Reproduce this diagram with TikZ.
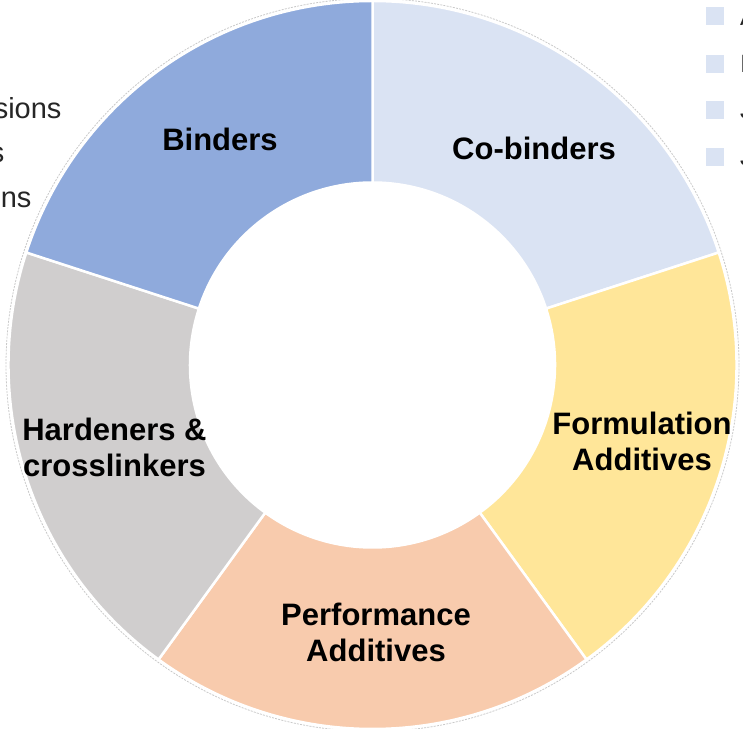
\documentclass[tikz,border=0pt]{standalone}
\usepackage{fontspec}
\usetikzlibrary{calc}
\setmainfont{Liberation Sans}
\definecolor{cbind}{HTML}{8FAADC}
\definecolor{ccobind}{HTML}{DAE3F3}
\definecolor{cform}{HTML}{FFE699}
\definecolor{cperf}{HTML}{F8CBAD}
\definecolor{chard}{HTML}{D0CECE}
\definecolor{crim}{HTML}{C9C9C9}
\definecolor{legtext}{HTML}{262626}
\begin{document}
\begin{tikzpicture}[x=1pt,y=1pt,
  slice/.style={draw=white,line width=2.5pt,line join=miter},
  seglabel/.style={inner sep=0pt,align=center,font=\fontsize{31}{36}\selectfont\bfseries,text=black},
  legtxt/.style={inner sep=0pt,font=\fontsize{29}{33}\selectfont,text=legtext},
  legtxtr/.style={inner sep=0pt,font=\fontsize{25}{29}\selectfont,text=legtext},
  legbox/.style={fill=ccobind,draw=none}]
\useasboundingbox (0,0) rectangle (743,728);
\clip (0,0) rectangle (743,728);
\coordinate (c) at (372.5,363);
\def\ro{364}
\def\ri{182.5}
% donut slices: start angle, end angle, colour
\foreach \a/\b/\col in {18/90/ccobind, -54/18/cform, -126/-54/cperf, 162/234/chard, 90/162/cbind}{
  \filldraw[slice,fill=\col] ($(c)+(\a:\ro)$) arc[start angle=\a,end angle=\b,radius=\ro]
    -- ($(c)+(\b:\ri)$) arc[start angle=\b,end angle=\a,radius=\ri] -- cycle;
}
% faint rim around the ring
\draw[crim,line width=0.8pt,dash pattern=on 2pt off 1.2pt] (c) circle[radius=366.5];
% segment labels
\node[seglabel,anchor=base] (binders) at (220,577) {Binders};
\node[seglabel,anchor=base] (cobinders) at (534,568) {Co-binders};
\node[seglabel] (formulation) at (642,287) {Formulation\\Additives};
\node[seglabel] (performance) at (376,96) {Performance\\Additives};
\node[seglabel] (hardeners) at (114.5,280.5) {Hardeners \&\\crosslinkers};
% legend entries on the left
\node[legtxt,anchor=base east] (lega) at (61.7,609) {sions};
\node[legtxt,anchor=base east] (legb) at (4.5,565) {s};
\node[legtxt,anchor=base east] (legc) at (31.7,520) {ns};
% legend on the right
\foreach \yt/\t [count=\i] in {7.5/A, 55/I, 101/J, 148/J}{
  \fill[legbox] (705.5,728-\yt) rectangle ++(18,-18);
  \node[legtxtr,anchor=base west] (legr\i) at (740,728-\yt-18) {\t};
}
\end{tikzpicture}
\end{document}
